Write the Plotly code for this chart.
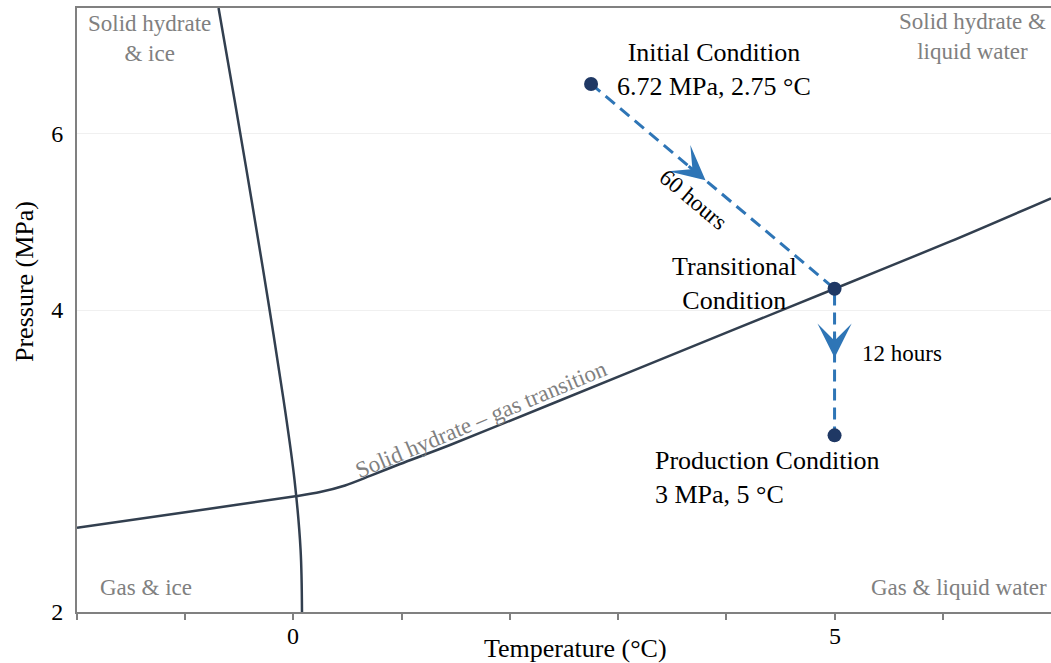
import math
import plotly.graph_objects as go

# ---------------- data ----------------
# ice / liquid-water boundary (Temperature °C, Pressure MPa)
ice_T = [-0.692, -0.544, -0.387, -0.235, -0.091, 0.010, 0.066, 0.079]
ice_P = [8.0, 6.478, 5.148, 4.093, 3.253, 2.707, 2.306, 2.0]

# solid hydrate - gas equilibrium curve
hyd_T = [-2.0, -0.983, 0.033, 0.246, 0.477, 0.708, 0.985, 1.447, 3.202, 5.0, 6.065, 7.0]
hyd_P = [2.426, 2.516, 2.610, 2.634, 2.674, 2.733, 2.809, 2.934, 3.503, 4.2, 4.679, 5.169]

# operating conditions: initial, transitional, production
cond_names = ["Initial", "Transitional", "Production"]
cond_T = [2.75, 5.0, 5.0]
cond_P = [6.72, 4.2, 3.0]

x_tickvals = [-2, -1, 0, 1, 2, 3, 4, 5, 6]
x_labelvals = [0, 5]
y_tickvals = [2, 4, 6]
y_ticktext = ["2", "4", "6"]

# ---------------- layout constants ----------------
W, H = 1051, 663
ML, MR, MT, MB = 77, 0, 8, 51
XR = [-2, 7]
YR = [math.log10(2), math.log10(8)]
PW, PH = W - ML - MR, H - MT - MB

SERIF = "Liberation Serif, Times New Roman, serif"
CURVE = "#323f4f"
BLUE = "#2e75b6"
NAVY = "#1f3864"
GREY = "#808080"


def to_px(T, P):
    x = ML + (T - XR[0]) / (XR[1] - XR[0]) * PW
    y = MT + (YR[1] - math.log10(P)) / (YR[1] - YR[0]) * PH
    return x, y


fig = go.Figure()

fig.add_trace(go.Scatter(x=ice_T, y=ice_P, mode="lines",
                         line=dict(color=CURVE, width=2.5, shape="spline", smoothing=1.0),
                         hoverinfo="skip", showlegend=False))
fig.add_trace(go.Scatter(x=hyd_T, y=hyd_P, mode="lines",
                         line=dict(color=CURVE, width=2.5, shape="spline", smoothing=0.8),
                         hoverinfo="skip", showlegend=False))
fig.add_trace(go.Scatter(x=cond_T, y=cond_P, mode="lines",
                         line=dict(color=BLUE, width=3, dash="12px,7px"),
                         hoverinfo="skip", showlegend=False))
fig.add_trace(go.Scatter(x=cond_T, y=cond_P, mode="markers",
                         marker=dict(color=NAVY, size=14),
                         hoverinfo="skip", showlegend=False))

annotations = []

# chevron arrowheads part way along each leg
for i in range(len(cond_T) - 1):
    t = 0.47
    T0, P0, T1, P1 = cond_T[i], cond_P[i], cond_T[i + 1], cond_P[i + 1]
    Th = T0 + t * (T1 - T0)
    lPh = math.log10(P0) + t * (math.log10(P1) - math.log10(P0))
    x0, y0 = to_px(T0, P0)
    x1, y1 = to_px(T1, P1)
    L = math.hypot(x1 - x0, y1 - y0)
    ux, uy = (x1 - x0) / L, (y1 - y0) / L
    off = 24
    annotations.append(dict(x=Th, y=lPh, xref="x", yref="y", text="",
                            showarrow=True, arrowhead=3, arrowsize=1.9, arrowwidth=3,
                            arrowcolor=BLUE, ax=-off * ux, ay=-off * uy, standoff=0))


def px_paper(px, py):
    return (px - ML) / PW, (MT + PH - py) / PH


def label(text, px, py, size, color, xanchor="center", align="center", angle=0):
    xp, yp = px_paper(px, py)
    annotations.append(dict(x=xp, y=yp, xref="paper", yref="paper", text=text,
                            showarrow=False, xanchor=xanchor, yanchor="middle",
                            align=align, textangle=angle,
                            font=dict(family=SERIF, size=size, color=color)))


# x tick labels (placed close to the axis like the reference)
for v in x_labelvals:
    annotations.append(dict(x=v, y=px_paper(0, 636)[1], xref="x", yref="paper",
                            text=str(v), showarrow=False, xanchor="center", yanchor="middle",
                            font=dict(family=SERIF, size=24, color="black")))

label("Solid hydrate<br>&amp; ice", 149, 39, 23, GREY)
label("Solid hydrate &amp;<br>liquid water", 972, 36, 23, GREY)
label("Gas &amp; ice", 146, 587, 23, GREY)
label("Gas &amp; liquid water", 1049, 587, 23, GREY, xanchor="right")
label("Solid hydrate – gas transition", 481, 419, 23, GREY, angle=-22.7)

label(f"Initial Condition<br>{cond_P[0]:.2f} MPa, {cond_T[0]:.2f} °C", 714, 69.5, 26, "black")
label("Transitional<br>Condition", 734, 283.5, 26, "black")
label(f"Production Condition<br>{cond_P[2]:g} MPa, {cond_T[2]:g} °C", 653, 477.5, 26, "black",
      xanchor="left", align="left")
label("12 hours", 860, 354, 23, "black", xanchor="left")
label("60 hours", 693, 200, 23, "black", angle=40)

label("Temperature (°C)", 575, 648, 26, "black")
label("Pressure (MPa)", 24, 282, 26, "black", angle=-90)

fig.update_layout(
    width=W, height=H,
    margin=dict(l=ML, r=MR, t=MT, b=MB, pad=0),
    paper_bgcolor="white", plot_bgcolor="white",
    showlegend=False,
    annotations=annotations,
    font=dict(family=SERIF, color="black"),
    xaxis=dict(range=XR, tickmode="array", tickvals=x_tickvals, showticklabels=False,
               ticks="outside", ticklen=6, tickwidth=1.5, tickcolor=GREY,
               showline=True, linecolor=GREY, linewidth=2, mirror=True,
               showgrid=False, zeroline=False),
    yaxis=dict(type="log", range=YR, tickmode="array", tickvals=y_tickvals, ticktext=y_ticktext,
               ticks="", ticklabelstandoff=7,
               showline=True, linecolor=GREY, linewidth=2,
               showgrid=True, gridcolor="#f0f0f0", gridwidth=1, zeroline=False,
               tickfont=dict(family=SERIF, size=24, color="black")),
)

fig.write_html("out.html")
